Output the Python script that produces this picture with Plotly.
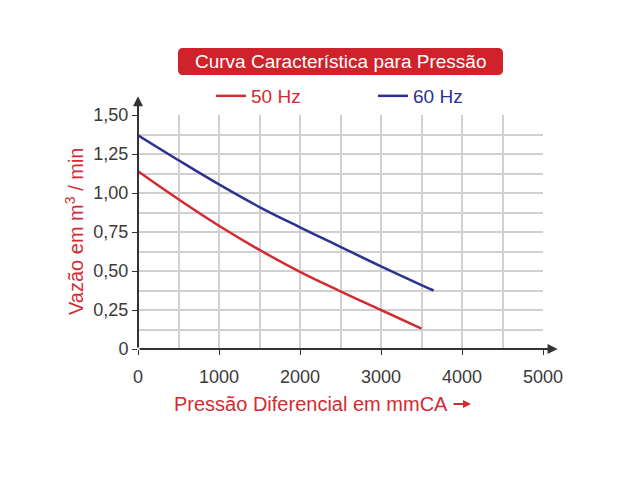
import plotly.graph_objects as go

# pressure (mmCA) vs flow (m3/min)
x_50hz = [0, 500, 1000, 1500, 2000, 2500, 3000, 3500]
y_50hz = [1.14, 0.96, 0.79, 0.635, 0.495, 0.37, 0.25, 0.13]
x_60hz = [0, 500, 1000, 1500, 2000, 2500, 3000, 3500, 3650]
y_60hz = [1.37, 1.21, 1.055, 0.91, 0.78, 0.655, 0.53, 0.41, 0.375]

y_tickvals = [0, 0.25, 0.5, 0.75, 1.0, 1.25, 1.5]
y_ticktext = ["0", "0,25", "0,50", "0,75", "1,00", "1,25", "1,50"]
x_tickvals = [0, 1000, 2000, 3000, 4000, 5000]

RED = "#d42a32"
BLUE = "#2e3190"
FONT = "Liberation Sans"
GRID = "#d0d0d0"

fig = go.Figure()
fig.add_trace(go.Scatter(x=x_50hz, y=y_50hz, mode="lines",
                         line=dict(color=RED, width=2.5, shape="spline", smoothing=1.2),
                         name="<span style='color:%s'>50 Hz</span>" % RED))
fig.add_trace(go.Scatter(x=x_60hz, y=y_60hz, mode="lines",
                         line=dict(color=BLUE, width=2.5, shape="spline", smoothing=1.2),
                         name="<span style='color:%s'>60 Hz</span>" % BLUE))

fig.update_xaxes(range=[0, 5000], tickvals=x_tickvals, showgrid=True, gridcolor=GRID, gridwidth=1.5,
                 minor=dict(dtick=500, tick0=0, showgrid=True, gridcolor=GRID, gridwidth=1.5),
                 zeroline=False, showline=False, ticks="outside", ticklen=5, tickcolor="#333",
                 ticklabelstandoff=6, tickfont=dict(family=FONT, size=18, color="#3a3a3a"))
fig.update_yaxes(range=[0, 1.5], tickvals=y_tickvals, ticktext=y_ticktext, showgrid=True,
                 gridcolor=GRID, gridwidth=1.5,
                 minor=dict(dtick=0.125, tick0=0, showgrid=True, gridcolor=GRID, gridwidth=1.5),
                 zeroline=False, showline=False, ticks="outside", ticklen=5, tickcolor="#333",
                 tickfont=dict(family=FONT, size=18, color="#3a3a3a"))

# axis lines with arrows
fig.add_annotation(x=5180, y=0, ax=0, ay=0, xref="x", yref="y", axref="x", ayref="y", text="",
                   showarrow=True, arrowhead=2, arrowsize=1, arrowwidth=2, arrowcolor="#333")
fig.add_annotation(x=0, y=1.62, ax=0, ay=0, xref="x", yref="y", axref="x", ayref="y", text="",
                   showarrow=True, arrowhead=2, arrowsize=1, arrowwidth=2, arrowcolor="#333")

# positions in reference pixels -> paper coords (plot area 405 x 234 px)
def px_x(p):
    return (p - 138) / 405

def px_y(p):
    return (349 - p) / 234

# title box with rounded corners
x0, x1, y0, y1 = px_x(178), px_x(503), px_y(75), px_y(48)
rx, ry = 5 / 405, 5 / 234
path = (f"M {x0+rx},{y0} L {x1-rx},{y0} Q {x1},{y0} {x1},{y0+ry} L {x1},{y1-ry} Q {x1},{y1} {x1-rx},{y1} "
        f"L {x0+rx},{y1} Q {x0},{y1} {x0},{y1-ry} L {x0},{y0+ry} Q {x0},{y0} {x0+rx},{y0} Z")
fig.add_shape(type="path", path=path, xref="paper", yref="paper", fillcolor="#d0222b", line=dict(width=0))
fig.add_annotation(x=(x0 + x1) / 2, y=(y0 + y1) / 2, xref="paper", yref="paper", showarrow=False,
                   xanchor="center", yanchor="middle",
                   text="Curva Característica para Pressão", font=dict(family=FONT, size=19, color="white"))

fig.add_annotation(x=px_x(74), y=px_y(232), xref="paper", yref="paper", showarrow=False, textangle=-90,
                   xanchor="center", yanchor="middle",
                   text="Vazão em m<sup>3</sup> / min", font=dict(family=FONT, size=20, color=RED))
fig.add_annotation(x=px_x(311), y=px_y(404), xref="paper", yref="paper", showarrow=False,
                   xanchor="center", yanchor="middle",
                   text="Pressão Diferencial em mmCA", font=dict(family=FONT, size=20, color=RED))
fig.add_annotation(x=px_x(471), y=px_y(404), ax=-19, ay=0, xref="paper", yref="paper",
                   text="", showarrow=True, arrowhead=2, arrowsize=0.8,
                   arrowwidth=2, arrowcolor=RED)

# page body adds an 8 px offset, so margins are shifted to compensate
fig.update_layout(width=640, height=480, paper_bgcolor="white", plot_bgcolor="white",
                  margin=dict(l=130, r=105, t=107, b=139),
                  showlegend=True,
                  legend=dict(orientation="h", x=px_x(211), y=px_y(96), xanchor="left", yanchor="middle",
                              font=dict(family=FONT, size=19), entrywidth=117, entrywidthmode="pixels",
                              itemwidth=30, bgcolor="rgba(0,0,0,0)"))

fig.write_html("out.html")
